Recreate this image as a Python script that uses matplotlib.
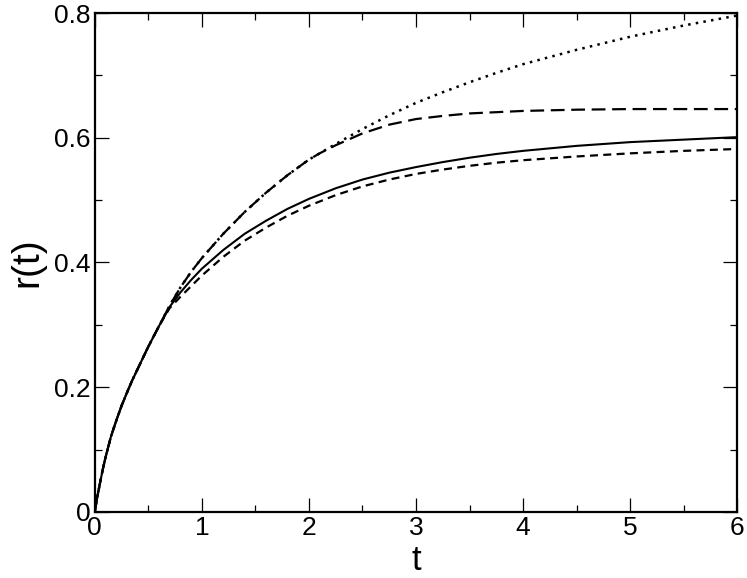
import numpy as np
import matplotlib
matplotlib.use("Agg")
import matplotlib.pyplot as plt
from matplotlib.ticker import MultipleLocator

plt.rcParams['font.family'] = ['Liberation Sans', 'DejaVu Sans']

# ----
# Data
# ----
# all four curves share this start
t_early = [0.0, 0.025, 0.05, 0.075, 0.1, 0.15, 0.2, 0.25, 0.3, 0.35, 0.4,
           0.5, 0.6]
r_early = [0.0, 0.025, 0.047, 0.068, 0.087, 0.12, 0.146, 0.17, 0.191, 0.211,
           0.229, 0.265, 0.298]

# long dashed and dotted curves coincide up to t ~ 2.1
t_upper = [0.7, 0.8, 0.9, 1.0, 1.2, 1.4, 1.6, 1.8, 2.0, 2.1]
r_upper = [0.331, 0.360, 0.385, 0.407, 0.446, 0.481, 0.512, 0.540, 0.565,
           0.575]

# long dashed curve (saturates near 0.646)
t_long = [2.25, 2.5, 2.75, 3.0, 3.25, 3.5, 3.75, 4.0, 4.5, 5.0, 5.5, 6.0]
r_long = [0.588, 0.607, 0.621, 0.630, 0.635, 0.639, 0.641, 0.643, 0.645,
          0.646, 0.646, 0.646]

# dotted curve
t_dot = [2.25, 2.5, 2.75, 3.0, 3.25, 3.5, 3.75, 4.0, 4.5, 5.0, 5.5, 6.0]
r_dot = [0.590, 0.614, 0.636, 0.656, 0.673, 0.689, 0.704, 0.718, 0.741,
         0.762, 0.780, 0.796]

# solid curve
t_solid = [0.7, 0.8, 0.9, 1.0, 1.2, 1.4, 1.6, 1.8, 2.0, 2.25, 2.5, 2.75,
           3.0, 3.25, 3.5, 3.75, 4.0, 4.5, 5.0, 5.5, 6.0]
r_solid = [0.329, 0.352, 0.372, 0.390, 0.420, 0.446, 0.467, 0.486, 0.502,
           0.519, 0.533, 0.544, 0.553, 0.561, 0.568, 0.574, 0.579, 0.587,
           0.593, 0.597, 0.601]

# short dashed curve
t_short = [0.7, 0.8, 0.9, 1.0, 1.2, 1.4, 1.6, 1.8, 2.0, 2.25, 2.5, 2.75,
           3.0, 3.25, 3.5, 3.75, 4.0, 4.5, 5.0, 5.5, 6.0]
r_short = [0.327, 0.345, 0.362, 0.379, 0.409, 0.435, 0.456, 0.475, 0.491,
           0.508, 0.522, 0.533, 0.542, 0.549, 0.555, 0.560, 0.564, 0.570,
           0.575, 0.579, 0.582]


def join(*parts):
    t = []
    for p in parts[0::2]:
        t += p
    r = []
    for p in parts[1::2]:
        r += p
    return np.array(t), np.array(r)


fig = plt.figure(figsize=(7.47, 5.78), dpi=100)
ax = fig.add_axes([0.1268, 0.1142, 0.8603, 0.8633])

x, y = join(t_early, r_early, t_upper, r_upper, t_dot, r_dot)
ax.plot(x, y, color='black', lw=1.8, dashes=(1.0, 2.1), dash_capstyle='butt')
x, y = join(t_early, r_early, t_upper, r_upper, t_long, r_long)
ax.plot(x, y, color='black', lw=1.6, dashes=(6.2, 3.0))
x, y = join(t_early, r_early, t_solid, r_solid)
ax.plot(x, y, color='black', lw=1.5)
x, y = join(t_early, r_early, t_short, r_short)
ax.plot(x, y, color='black', lw=1.6, dashes=(3.6, 2.4))

ax.set_xlim(0, 6)
ax.set_ylim(0, 0.8)
ax.set_xticks([0, 1, 2, 3, 4, 5, 6])
ax.set_xticklabels(['0', '1', '2', '3', '4', '5', '6'])
ax.set_yticks([0, 0.2, 0.4, 0.6, 0.8])
ax.set_yticklabels(['0', '0.2', '0.4', '0.6', '0.8'])
ax.xaxis.set_minor_locator(MultipleLocator(0.5))
ax.yaxis.set_minor_locator(MultipleLocator(0.1))

ax.tick_params(which='both', direction='in', top=True, right=True,
               labelsize=19, width=0.9)
ax.tick_params(which='major', length=10, pad=3)
ax.tick_params(which='minor', length=5)
for s in ax.spines.values():
    s.set_linewidth(1.6)

ax.set_xlabel('t', fontsize=25, labelpad=2.5)
ax.set_ylabel('r(t)', fontsize=28, labelpad=6)

plt.savefig('out.png', dpi=100)
plt.close()
